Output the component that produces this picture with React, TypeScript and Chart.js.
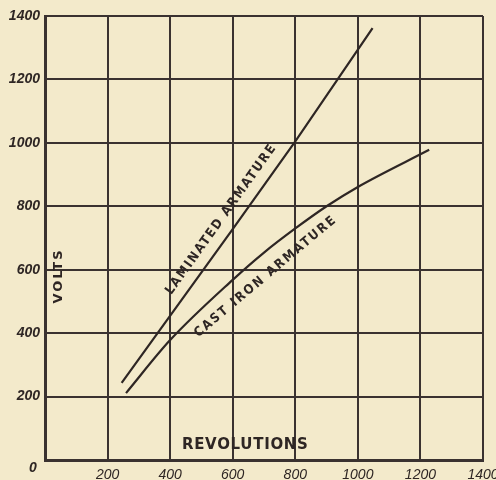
import React, { useEffect, useRef } from 'react';
import { Chart, registerables } from 'chart.js';

Chart.register(...registerables);

// ---- data ----
const laminatedRevs = [245, 600, 800, 1047];
const laminatedVolts = [243, 728, 1005, 1362];
const castIronRevs = [259, 400, 600, 700, 800, 900, 1000, 1228];
const castIronVolts = [211, 378, 568, 654, 730, 800, 861, 978];
const axisMin = 0;
const axisMax = 1400;
const axisStep = 200;
const xAxisTitle = 'REVOLUTIONS';
const yAxisTitle = 'VOLTS';
const laminatedLabel = 'LAMINATED ARMATURE';
const castIronLabel = 'CAST IRON ARMATURE';

const PAPER = '#f3eacb';
const INK = '#2e2624';
const GRID = '#3a3230';

function drawFitted(
  ctx: CanvasRenderingContext2D,
  text: string,
  cx: number,
  cy: number,
  angleDeg: number,
  font: string,
  target: number
) {
  ctx.save();
  ctx.font = font;
  (ctx as any).letterSpacing = '0px';
  const w = ctx.measureText(text).width;
  const sp = target ? (target - w) / (text.length - 1) : 0;
  (ctx as any).letterSpacing = sp + 'px';
  ctx.translate(cx, cy);
  ctx.rotate((angleDeg * Math.PI) / 180);
  ctx.textAlign = 'center';
  ctx.textBaseline = 'middle';
  ctx.fillStyle = INK;
  ctx.fillText(text, sp / 2, 0);
  ctx.restore();
}

const paperPlugin = {
  id: 'paper',
  beforeDraw(chart: any) {
    const { ctx, width, height } = chart;
    ctx.save();
    ctx.fillStyle = PAPER;
    ctx.fillRect(0, 0, width, height);
    ctx.restore();
  },
};

const annotationPlugin = {
  id: 'annotations',
  afterDatasetsDraw(chart: any) {
    const { ctx } = chart;
    const x = chart.scales.x;
    const y = chart.scales.y;
    // curve labels
    drawFitted(ctx, laminatedLabel, x.getPixelForValue(562), y.getPixelForValue(757), -54.5,
      'bold 13px "DejaVu Sans Condensed", "DejaVu Sans", sans-serif', 180);
    drawFitted(ctx, castIronLabel, x.getPixelForValue(703), y.getPixelForValue(577), -40,
      'bold 13px "DejaVu Sans Condensed", "DejaVu Sans", sans-serif', 180);
    // axis titles inside the plot
    drawFitted(ctx, xAxisTitle, x.getPixelForValue(639), y.getPixelForValue(47), 0,
      'bold 15px "DejaVu Sans", sans-serif', 126);
    drawFitted(ctx, yAxisTitle, x.getPixelForValue(42), y.getPixelForValue(577), -90,
      'bold 13px "DejaVu Sans", sans-serif', 53);
    // shared origin label
    ctx.save();
    ctx.font = 'bold italic 14px "Liberation Sans", Arial, sans-serif';
    ctx.fillStyle = INK;
    ctx.textAlign = 'center';
    ctx.textBaseline = 'middle';
    ctx.fillText(String(axisMin), x.getPixelForValue(axisMin) - 12, y.getPixelForValue(axisMin) + 8);
    ctx.restore();
  },
};

export default function App() {
  const ref = useRef<HTMLCanvasElement | null>(null);

  useEffect(() => {
    document.body.style.margin = '0';
    document.body.style.background = PAPER;
    const canvas = ref.current;
    if (!canvas) return;
    const chart = new Chart(canvas, {
      type: 'line',
      data: {
        datasets: [
          {
            label: laminatedLabel,
            data: laminatedRevs.map((r, i) => ({ x: r, y: laminatedVolts[i] })),
            borderColor: INK,
            borderWidth: 2.2,
            pointRadius: 0,
            tension: 0,
            fill: false,
          },
          {
            label: castIronLabel,
            data: castIronRevs.map((r, i) => ({ x: r, y: castIronVolts[i] })),
            borderColor: INK,
            borderWidth: 2.2,
            pointRadius: 0,
            cubicInterpolationMode: 'monotone',
            fill: false,
          },
        ],
      },
      options: {
        animation: false,
        responsive: false,
        events: [],
        layout: { padding: { top: 16, right: 13, left: 0, bottom: 0 } },
        plugins: {
          legend: { display: false },
          tooltip: { enabled: false },
          title: { display: false },
        },
        scales: {
          x: {
            type: 'linear',
            min: axisMin,
            max: axisMax,
            ticks: {
              stepSize: axisStep,
              color: INK,
              padding: 7,
              maxRotation: 0,
              font: { family: '"Liberation Sans", Arial, sans-serif', size: 14, style: 'italic', weight: 'normal' },
              callback: (v: any) => (v === axisMin ? '' : String(v)),
            },
            grid: { color: GRID, lineWidth: 2, drawTicks: false },
            border: { color: GRID, width: 3 },
            afterFit: (s: any) => {
              s.height = 20;
              s.paddingLeft = 0;
              s.paddingRight = 0;
            },
          },
          y: {
            type: 'linear',
            min: axisMin,
            max: axisMax,
            ticks: {
              stepSize: axisStep,
              color: INK,
              padding: 5,
              font: { family: '"Liberation Sans", Arial, sans-serif', size: 14, style: 'italic', weight: 'bold' },
              callback: (v: any) => (v === axisMin ? '' : String(v)),
            },
            grid: { color: GRID, lineWidth: 2, drawTicks: false },
            border: { color: GRID, width: 3 },
            afterFit: (s: any) => {
              s.width = 45;
              s.paddingTop = 0;
              s.paddingBottom = 0;
            },
          },
        },
      } as any,
      plugins: [paperPlugin, annotationPlugin],
    });
    return () => chart.destroy();
  }, []);

  return (
    <div style={{ width: 496, height: 480, background: PAPER }}>
      <canvas ref={ref} width={496} height={480} style={{ display: 'block' }} />
    </div>
  );
}
